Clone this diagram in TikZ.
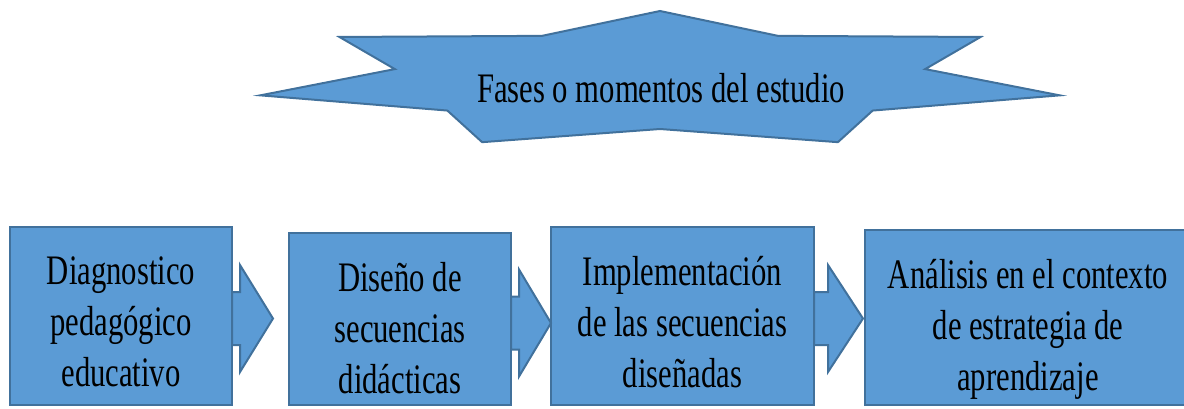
\documentclass[tikz,border=0pt]{standalone}
\usepackage{fontspec}
\setmainfont{Liberation Serif}[FakeStretch=0.73]
\usetikzlibrary{calc}
\definecolor{azul}{RGB}{91,155,213}
\definecolor{borde}{RGB}{65,113,156}

\begin{document}
\begin{tikzpicture}[x=0.5pt, y=-0.5pt, line join=miter,
    caja/.style={rectangle,draw=borde,fill=azul,line width=1pt,outer sep=0pt,inner sep=0pt},
    flecha/.style={draw=borde,fill=azul,line width=1pt},
    texto/.style={align=center,inner sep=0pt,anchor=north,font=\fontsize{21pt}{25.5pt}\selectfont}]

  \useasboundingbox (0,0) rectangle (1184,408);
  \clip (0,0) rectangle (1184,408);

  % estrella de 7 puntas
  \coordinate (estrella) at (660,80);
  \filldraw[flecha] ($(estrella)+(0,-69)$)
    \foreach \i [evaluate=\i as \a using -90+360/14*\i,
                 evaluate=\i as \rx using 341+69*cos(180*\i),
                 evaluate=\i as \ry using 59+10*cos(180*\i)] in {1,...,13}
      { -- ($(estrella)+({\rx*cos(\a)},{\ry*sin(\a)})$) } -- cycle;
  \node[font=\fontsize{21pt}{25.5pt}\selectfont, anchor=base] (fases) at (661,102.5) {Fases o momentos del estudio};

  % fases
  \node[caja, minimum width=111pt, minimum height=89pt] (c1) at (121,316) {};
  \node[caja, minimum width=111pt, minimum height=86pt] (c2) at (400,319) {};
  \node[caja, minimum width=131.5pt, minimum height=89pt] (c3) at (682.5,316) {};
  \node[caja, minimum width=163pt, minimum height=87.5pt] (c4) at (1028,317.5) {};

  \foreach \c/\d/\s/\h in {c1/-1.25/8/33, c2/-2/8/32, c3/-1.25/14/35}
    \filldraw[flecha] ([yshift=\d pt]\c.east) ++(0,-26.5) -- ++(\s,0) -- ++(0,-27)
      -- ++(\h,53.5) -- ++(-\h,53.5) -- ++(0,-27) -- ++(-\s,0) -- cycle;

  \node[texto] (t1) at ([yshift=-14.5pt]c1.north) {Diagnostico\\pedagógico\\educativo};
  \node[texto] (t2) at ([yshift=-14.5pt]c2.north) {Diseño de\\secuencias\\didácticas};
  \node[texto] (t3) at ([yshift=-14.5pt]c3.north) {Implementación\\de las secuencias\\diseñadas};
  \node[texto] (t4) at ([yshift=-14.5pt]c4.north) {Análisis en el contexto\\de estrategia de\\aprendizaje};
\end{tikzpicture}
\end{document}
